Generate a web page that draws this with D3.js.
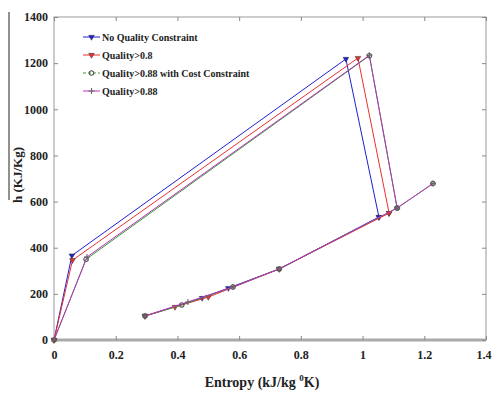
<!DOCTYPE html>
<html>
<head>
<meta charset="utf-8">
<script src="https://cdn.jsdelivr.net/npm/d3@7"></script>
<style>
body { margin: 0; background: #fff; }
text { font-family: "Liberation Serif", "Times New Roman", serif; font-weight: bold; }
</style>
</head>
<body>
<div id="chart"></div>
<script>
// series names
var seriesNames = ["No Quality Constraint", "Quality>0.8", "Quality>0.88 with Cost Constraint", "Quality>0.88"];
var seriesColors = ["#2020d0", "#e83030", "#30a030", "#c030c0"];

// upper branch (entropy, enthalpy)
var upperBlue = [[0, 0], [0.058, 366], [0.946, 1218], [1.053, 533]];
var upperRed = [[0, 0], [0.06, 346], [0.985, 1222], [1.086, 550]];
var upperGreen = [[0, 0], [0.104, 350], [1.022, 1232], [1.112, 572]];
var upperMagenta = [[0, 0], [0.107, 360], [1.022, 1234], [1.112, 572]];

// lower branch
var lowerBlue = [[0.295, 104], [0.48, 182], [0.565, 225], [0.73, 308], [1.053, 533]];
var lowerRed = [[0.295, 104], [0.392, 143], [0.5, 186], [0.73, 308], [1.086, 550]];
var lowerGreen = [[0.295, 104], [0.414, 152], [0.58, 230], [0.73, 308], [1.112, 572], [1.228, 678]];
var lowerMagenta = [[0.295, 104], [0.434, 165], [0.58, 230], [0.73, 308], [1.112, 572], [1.228, 678]];

var xTicks = [0, 0.2, 0.4, 0.6, 0.8, 1, 1.2, 1.4];
var yTicks = [0, 200, 400, 600, 800, 1000, 1200, 1400];

var svgWidth = 492, svgHeight = 397;
var margin = {top: 17, right: 6, bottom: 57, left: 54};
var chartWidth = svgWidth - margin.left - margin.right;
var chartHeight = svgHeight - margin.top - margin.bottom;

var svg = d3.select("#chart").append("svg")
    .attr("width", svgWidth)
    .attr("height", svgHeight);

var chartGroup = svg.append("g")
    .attr("transform", `translate(${margin.left}, ${margin.top})`);

var xScale = d3.scaleLinear().domain([0, 1.4]).range([0, chartWidth]);
var yScale = d3.scaleLinear().domain([0, 1400]).range([chartHeight, 0]);

// frame
chartGroup.append("rect")
    .attr("width", chartWidth)
    .attr("height", chartHeight)
    .attr("fill", "none")
    .attr("stroke", "#999")
    .attr("stroke-width", 1);

// bottom axis line is thicker grey
chartGroup.append("line")
    .attr("x1", 0).attr("x2", chartWidth)
    .attr("y1", chartHeight).attr("y2", chartHeight)
    .attr("stroke", "#aaa")
    .attr("stroke-width", 3);

// axes with inward ticks
var xAxis = d3.axisBottom(xScale).tickValues(xTicks).tickSize(-4).tickPadding(10).tickFormat(d3.format("~g"));
var yAxis = d3.axisLeft(yScale).tickValues(yTicks).tickSize(-4).tickPadding(6).tickFormat(d3.format("d"));

var gx = chartGroup.append("g")
    .attr("transform", `translate(0, ${chartHeight})`)
    .call(xAxis);
var gy = chartGroup.append("g").call(yAxis);

// top and right ticks
chartGroup.append("g").call(d3.axisTop(xScale).tickValues(xTicks).tickSize(-4).tickFormat(""));
chartGroup.append("g").attr("transform", `translate(${chartWidth},0)`)
    .call(d3.axisRight(yScale).tickValues(yTicks).tickSize(-4).tickFormat(""));

chartGroup.selectAll(".domain").remove();
chartGroup.selectAll(".tick line").attr("stroke", "#888");
chartGroup.selectAll(".tick text")
    .attr("font-size", "12px")
    .attr("fill", "#222")
    .style("font-family", "Liberation Serif")
    .style("font-weight", "bold");
// last x label sits at the right edge
gx.selectAll(".tick text").filter(d => d === 1.4).attr("text-anchor", "end").attr("dx", "5");

var line = d3.line().x(d => xScale(d[0])).y(d => yScale(d[1]));

var seriesData = [
    {upper: upperBlue, lower: lowerBlue, marker: "tri"},
    {upper: upperRed, lower: lowerRed, marker: "tri"},
    {upper: upperGreen, lower: lowerGreen, marker: "circle"},
    {upper: upperMagenta, lower: lowerMagenta, marker: "plus"}
];

function drawMarker(g, type, x, y, color) {
    if (type === "circle") {
        g.append("circle").attr("cx", x).attr("cy", y).attr("r", 2.2)
            .attr("fill", "none").attr("stroke", "#555").attr("stroke-width", 1.1);
    } else if (type === "plus") {
        g.append("path").attr("d", `M${x - 3},${y}H${x + 3}M${x},${y - 3}V${y + 3}`)
            .attr("stroke", "#666").attr("stroke-width", 1.1);
    } else {
        g.append("path").attr("d", d3.symbol(d3.symbolTriangle, 14)())
            .attr("transform", `translate(${x},${y}) rotate(180)`)
            .attr("fill", color).attr("stroke", "#333").attr("stroke-width", 0.5);
    }
}

seriesData.forEach(function(s, i) {
    var g = chartGroup.append("g");
    [s.upper, s.lower].forEach(function(pts) {
        g.append("path")
            .attr("d", line(pts))
            .attr("fill", "none")
            .attr("stroke", seriesColors[i])
            .attr("stroke-width", 1);
        pts.forEach(function(p) {
            drawMarker(g, s.marker, xScale(p[0]), yScale(p[1]), seriesColors[i]);
        });
    });
});

// legend
var legend = chartGroup.append("g").attr("transform", "translate(29, 20)");
seriesNames.forEach(function(name, i) {
    var row = legend.append("g").attr("transform", `translate(0, ${i * 18})`);
    row.append("line").attr("x1", 0).attr("x2", 17).attr("y1", 0).attr("y2", 0)
        .attr("stroke", seriesColors[i]).attr("stroke-width", 1)
        .attr("stroke-dasharray", i === 2 ? "3,2" : null);
    drawMarker(row, seriesData[i].marker, 8.5, 0, seriesColors[i]);
    row.append("text").attr("x", 19).attr("y", 4)
        .attr("font-size", "10px")
        .attr("fill", "#222")
        .text(name);
});

// axis labels
svg.append("text")
    .attr("x", 262)
    .attr("y", 387)
    .attr("text-anchor", "middle")
    .attr("font-size", "14px")
    .attr("fill", "#222")
    .html('Entropy (kJ/kg <tspan dy="-6" font-size="9px">0</tspan><tspan dy="6">K)</tspan>');

svg.append("text")
    .attr("transform", "translate(22, 175) rotate(-90)")
    .attr("text-anchor", "middle")
    .attr("font-size", "13px")
    .attr("fill", "#222")
    .text("h (KJ/Kg)");

// stray border line at left edge of the original figure
svg.append("line")
    .attr("x1", 9).attr("x2", 9).attr("y1", 12).attr("y2", 200)
    .attr("stroke", "#222").attr("stroke-width", 1);
</script>
</body>
</html>
